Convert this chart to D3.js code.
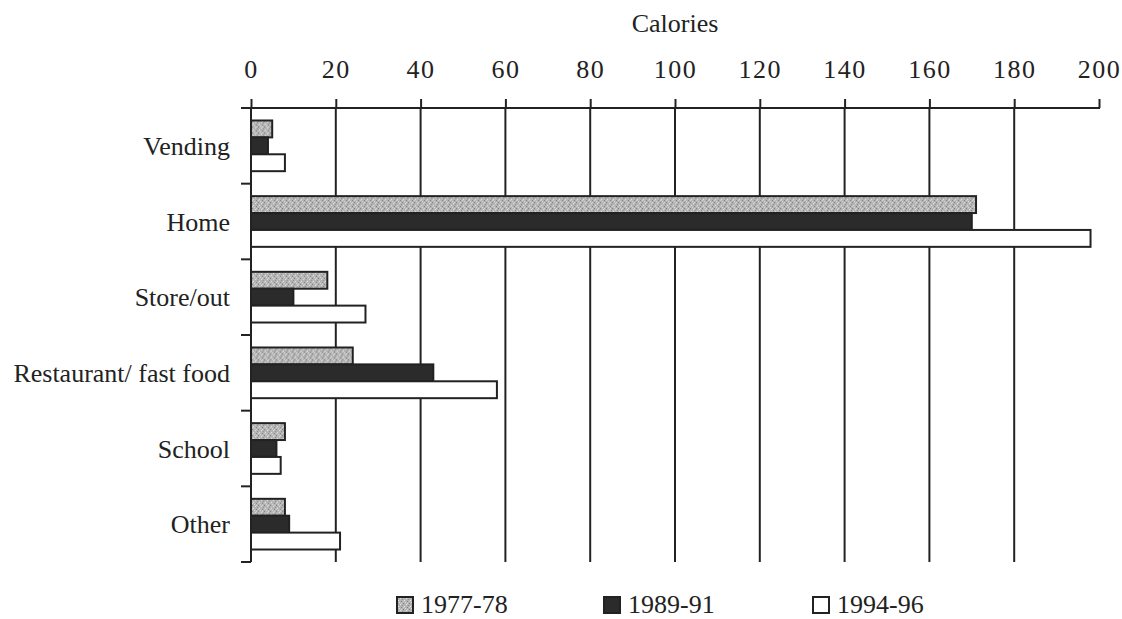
<!DOCTYPE html>
<html>
<head>
<meta charset="utf-8">
<script src="https://cdn.jsdelivr.net/npm/d3@7"></script>
<style>
  html, body { margin: 0; padding: 0; background: #fff; overflow: hidden; }
  svg { display: block; }
</style>
</head>
<body>
<svg width="1122" height="619"></svg>
<script>
const categories = ["Vending", "Home", "Store/out", "Restaurant/ fast food", "School", "Other"]
const seriesNames = ["1977-78", "1989-91", "1994-96"]
const values7778 = [5, 171, 18, 24, 8, 8]
const values8991 = [4, 170, 10, 43, 6, 9]
const values9496 = [8, 198, 27, 58, 7, 21]
const xTicks = [0, 20, 40, 60, 80, 100, 120, 140, 160, 180, 200]

const seriesValues = [values7778, values8991, values9496]

const svg = d3.select("svg")
const ink = "#222"
const serif = "'Liberation Serif', 'Times New Roman', 'DejaVu Serif', serif"

// stippled grey fill like the scanned original
const defs = svg.append("defs")
const pat = defs.append("pattern")
  .attr("id", "stipple")
  .attr("patternUnits", "userSpaceOnUse")
  .attr("width", 6).attr("height", 6)
pat.append("rect").attr("width", 6).attr("height", 6).attr("fill", "#b4b4b4")
const dots = [[0,0,"#7a7a7a"],[3,1,"#e4e4e4"],[1,3,"#e8e8e8"],[4,4,"#808080"],[5,2,"#8c8c8c"],[2,5,"#dcdcdc"],[0,4,"#d0d0d0"],[4,0,"#d8d8d8"]]
dots.forEach(d => pat.append("rect").attr("x", d[0]).attr("y", d[1]).attr("width", 1).attr("height", 1).attr("fill", d[2]))

const fills = ["url(#stipple)", "#2b2b2b", "#fff"]

const plotLeft = 251, plotRight = 1099, plotTop = 108, plotBottom = 562

const x = d3.scaleLinear().domain([0, 200]).range([plotLeft, plotRight])

const y0 = d3.scaleBand()
  .domain(categories)
  .range([plotTop, plotBottom])
  .paddingInner(0.33)
  .paddingOuter(0.165)

const y1 = d3.scaleBand()
  .domain(seriesNames)
  .range([0, y0.bandwidth()])

// title
svg.append("text")
  .attr("x", (plotLeft + plotRight) / 2)
  .attr("y", 32)
  .attr("text-anchor", "middle")
  .attr("font-family", serif)
  .attr("font-size", 26)
  .attr("fill", ink)
  .text("Calories")

// gridlines
svg.append("g")
  .selectAll("line")
  .data(xTicks.filter(t => t > 0 && t < 200))
  .enter()
  .append("line")
    .attr("x1", d => x(d)).attr("x2", d => x(d))
    .attr("y1", plotTop).attr("y2", plotBottom)
    .attr("stroke", ink)
    .attr("stroke-width", 2)

// top axis
const xAxis = svg.append("g")
  .attr("transform", `translate(0,${plotTop})`)
  .call(d3.axisTop(x).tickValues(xTicks).tickSize(9).tickPadding(21).tickSizeOuter(0))
xAxis.attr("font-family", serif).attr("font-size", 26)
xAxis.select(".domain").remove()
xAxis.selectAll(".tick line").attr("stroke", ink).attr("stroke-width", 2)
xAxis.selectAll(".tick text")
  .attr("fill", ink)
  .attr("letter-spacing", 1.5)
svg.append("line")
  .attr("x1", plotLeft - 10).attr("x2", plotRight + 1)
  .attr("y1", plotTop).attr("y2", plotTop)
  .attr("stroke", ink).attr("stroke-width", 2)

// bars
const groups = svg.append("g")
  .selectAll("g")
  .data(categories)
  .enter()
  .append("g")
    .attr("transform", d => `translate(0,${y0(d)})`)

groups.selectAll("rect")
  .data((c, i) => seriesNames.map((s, j) => ({ series: s, idx: j, value: seriesValues[j][i] })))
  .enter()
  .append("rect")
    .attr("x", x(0))
    .attr("y", d => y1(d.series))
    .attr("width", d => x(d.value) - x(0))
    .attr("height", y1.bandwidth())
    .attr("fill", d => fills[d.idx])
    .attr("stroke", ink)
    .attr("stroke-width", 2)

// left axis with ticks at category boundaries
svg.append("line")
  .attr("x1", plotLeft).attr("x2", plotLeft)
  .attr("y1", plotTop).attr("y2", plotBottom)
  .attr("stroke", ink).attr("stroke-width", 2)
const boundaries = d3.range(1, categories.length + 1).map(i => plotTop + i * y0.step())
svg.append("g")
  .selectAll("line")
  .data(boundaries)
  .enter()
  .append("line")
    .attr("x1", plotLeft - 10).attr("x2", plotLeft)
    .attr("y1", d => d).attr("y2", d => d)
    .attr("stroke", ink).attr("stroke-width", 2)

// category labels
svg.append("g")
  .selectAll("text")
  .data(categories)
  .enter()
  .append("text")
    .attr("x", 230)
    .attr("y", d => y0(d) + y0.bandwidth() / 2 + 9)
    .attr("text-anchor", "end")
    .attr("font-family", serif)
    .attr("font-size", 26)
    .attr("fill", ink)
    .text(d => d)

// legend
const legendX = [397, 604, 813]
const legend = svg.append("g")
  .selectAll("g")
  .data(seriesNames)
  .enter()
  .append("g")
    .attr("transform", (d, i) => `translate(${legendX[i]},597)`)
legend.append("rect")
  .attr("width", 16).attr("height", 16)
  .attr("fill", (d, i) => fills[i])
  .attr("stroke", ink)
  .attr("stroke-width", 2)
legend.append("text")
  .attr("x", 24)
  .attr("y", 16)
  .attr("font-family", serif)
  .attr("font-size", 26)
  .attr("fill", ink)
  .text(d => d)
</script>
</body>
</html>
